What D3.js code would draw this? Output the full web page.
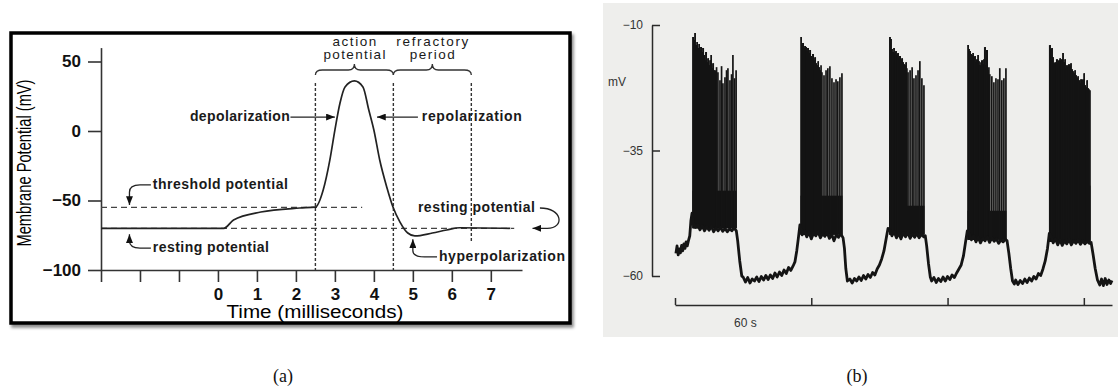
<!DOCTYPE html>
<html>
<head>
<meta charset="utf-8">
<script src="https://cdn.jsdelivr.net/npm/d3@7"></script>
<style>
  body { margin: 0; background: #fff; }
  svg { display: block; }
  text { font-family: "Liberation Sans", Arial, sans-serif; }
</style>
</head>
<body>
<svg id="chart" width="1118" height="389"></svg>
<script>
// ---------- panel (a): textbook action potential ----------
const apTime = [-3, 0.15, 0.4, 1.1, 2.1, 2.5, 2.7, 2.87, 3.0, 3.13, 3.26, 3.5, 3.72, 3.87, 4.0, 4.15, 4.33, 4.49, 4.67, 4.87, 5.05, 5.5, 5.87, 6.2, 7.5];
const apMv = [-70, -70, -64, -58.3, -55.4, -54.7, -42.4, -20.9, 0.7, 20, 31.7, 36, 31.7, 15.1, 0.7, -20.9, -40.3, -54.7, -65.5, -73.4, -75.5, -73.4, -71.2, -69.6, -70];
const aTickMv = [50, 0, -50, -100];
const aTickTime = [-3, -2, -1, 0, 1, 2, 3, 4, 5, 6, 7];
const thresholdMv = -55;
const restingMv = -70;
const phaseEdges = [2.5, 4.5, 6.5];
const phaseNames = [["action", "potential"], ["refractory", "period"]];

// ---------- panel (b): bursting recording ----------
const bTickMv = [-10, -35, -60];
const bTickTime = [0, 60, 120, 180];
// slow trace (baseline + plateau), [seconds, mV]
const tracePoints = [
  [0.4,-55.5],[0.9,-54.0],[1.4,-55.8],[1.9,-54.6],[2.4,-55.4],[2.9,-53.9],[3.4,-55.0],[3.9,-53.6],[4.4,-54.5],[4.9,-53.2],[5.4,-54.0],[5.9,-53.0],[6.5,-52.0],[7.0,-49.0],[7.5,-47.5],
  [8,-49.5],[9,-50.3],[10,-49.8],[11,-50.8],[12,-50.0],[13,-51.0],[14,-50.2],[15,-50.9],[16,-50.1],[17,-51.2],[18,-50.4],[19,-51.0],[20,-50.3],[21,-51.1],[22,-50.5],[23,-51.2],[24,-50.6],[25,-51.0],[26,-50.4],[27,-51.0],
  [27.6,-53.0],[28.5,-57.0],[29.4,-60.0],
  [30,-60.2],[31,-61.2],[32,-60.3],[33,-61.4],[34,-60.6],[35,-61.0],[36,-60.2],[37,-61.1],[38,-60.1],[39,-60.8],[40,-59.9],[41,-60.7],[42,-59.8],[43,-60.5],[44,-59.4],[45,-60.2],[46,-59.2],[47,-59.9],[48,-58.8],[49,-59.5],[50,-58.3],[51,-58.9],[52,-58.0],[52.8,-57.2],[53.6,-55.0],[54.3,-52.5],[55,-49.8],
  [56,-51.8],[57,-51.0],[58,-52.2],[59,-51.3],[60,-52.6],[61,-51.5],[62,-52.0],[63,-51.2],[64,-52.4],[65,-51.6],[66,-52.1],[67,-51.4],[68,-52.5],[69,-51.7],[70,-53.0],[71,-51.8],[72,-52.3],[73,-51.6],[74,-52.4],
  [74.6,-54.5],[75.2,-58.5],[75.9,-61.0],
  [77,-60.6],[78,-61.4],[79,-60.5],[80,-61.0],[81,-60.2],[82,-60.9],[83,-59.9],[84,-60.6],[85,-59.7],[86,-60.3],[87,-59.3],[88,-59.8],[89,-58.6],[90,-57.8],[91,-56.6],[92,-55.0],[93,-52.5],[93.8,-50.5],
  [94.5,-50.8],[95.5,-52.0],[96.5,-51.2],[97.5,-52.4],[98.5,-51.5],[99.5,-52.6],[100.5,-51.4],[101.5,-52.2],[102.5,-51.3],[103.5,-52.5],[104.5,-51.6],[105.5,-52.3],[106.5,-51.5],[107.5,-52.4],[108.5,-51.7],[109.5,-52.2],[110.2,-52.0],
  [110.8,-54.0],[111.6,-57.5],[112.4,-60.2],
  [113,-61.0],[114,-60.3],[115,-61.3],[116,-60.5],[117,-61.1],[118,-60.2],[119,-61.0],[120,-60.1],[121,-60.7],[122,-59.8],[123,-60.3],[124,-59.4],[125,-58.6],[126,-57.8],[127,-56.0],[128,-53.0],[128.7,-51.0],
  [129.5,-51.5],[130.5,-52.8],[131.5,-52.0],[132.5,-53.2],[133.5,-52.3],[134.5,-53.4],[135.5,-52.5],[136.5,-53.0],[137.5,-52.2],[138.5,-53.3],[139.5,-52.4],[140.5,-53.1],[141.5,-52.6],[142.5,-53.5],[143.5,-52.8],[144.5,-53.2],[145.5,-52.7],[146.2,-53.0],
  [147,-55.5],[147.8,-58.5],[148.6,-61.0],
  [149.4,-61.6],[150,-60.8],[151,-61.7],[152,-60.9],[153,-61.5],[154,-60.6],[155,-61.3],[156,-60.4],[157,-61.0],[158,-60.1],[159,-60.6],[160,-59.5],[161,-59.9],[162,-58.6],[163,-57.0],[164,-54.5],[164.8,-51.5],
  [165.5,-52.0],[166.5,-53.4],[167.5,-52.6],[168.5,-53.8],[169.5,-52.8],[170.5,-53.9],[171.5,-53.0],[172.5,-53.6],[173.5,-52.7],[174.5,-53.8],[175.5,-53.0],[176.5,-53.5],[177.5,-52.8],[178.5,-53.7],[179.5,-53.0],[180.5,-53.6],[181.5,-53.1],[182.5,-53.5],[183.2,-53.3],
  [184,-55.5],[185,-58.5],[186,-60.8],
  [187,-61.8],[187.8,-60.6],[188.6,-61.9],[189.4,-60.5],[190.2,-61.7],[191,-60.8],[191.8,-61.5],[192.4,-60.9]
];
// spike peaks per burst, [seconds, mV]
const burst1Spikes = [[7.9,-12.4],[8.4,-13.0],[8.8,-11.6],[9.2,-14.0],[9.7,-13.4],[10.1,-14.6],[10.6,-13.8],[11.0,-15.0],[11.4,-14.4],[11.9,-15.4],[12.3,-14.6],[12.8,-16.0],[13.2,-17.0],[13.6,-15.4],[14.1,-17.4],[14.5,-16.6],[15.0,-18.0],[15.4,-17.0],[15.9,-16.0],[16.3,-18.6],[16.7,-17.6],[17.2,-19.0],[17.6,-20.0],[18.3,-18.4],[18.9,-19.4],[19.8,-21.0],[20.5,-18.2],[21.1,-21.6],[22.0,-20.4],[22.7,-19.0],[23.3,-18.6],[24.2,-21.0],[24.9,-19.8],[25.5,-16.0],[26.2,-20.6],[26.9,-19.0]];
const burst2Spikes = [[55.5,-12.4],[55.9,-14.0],[56.3,-13.6],[56.8,-14.6],[57.2,-14.2],[57.7,-14.4],[58.1,-15.2],[58.5,-14.6],[59.0,-15.6],[59.4,-15.0],[59.9,-16.2],[60.3,-16.6],[60.7,-15.8],[61.2,-17.0],[61.6,-16.4],[62.1,-17.6],[62.5,-18.0],[63.0,-17.2],[63.4,-18.4],[63.8,-19.0],[64.3,-18.0],[64.7,-19.4],[65.6,-20.0],[66.5,-19.0],[67.3,-18.6],[68.2,-18.2],[69.1,-20.6],[70.0,-21.4],[70.9,-20.8],[71.7,-21.2],[72.6,-20.4],[73.5,-19.6]];
const burst3Spikes = [[94.6,-12.4],[95.0,-12.8],[95.5,-14.8],[95.9,-15.4],[96.4,-14.6],[96.8,-15.6],[97.2,-15.2],[97.7,-16.0],[98.1,-15.6],[98.6,-16.6],[99.0,-16.2],[99.5,-17.0],[99.9,-16.6],[100.4,-17.4],[100.8,-17.8],[101.3,-18.0],[101.7,-17.4],[102.1,-18.6],[102.6,-19.4],[103.5,-19.0],[104.4,-18.4],[105.2,-20.6],[106.1,-20.0],[107.0,-19.0],[107.8,-17.2],[108.7,-20.6],[109.6,-22.0]];
const burst4Spikes = [[129.0,-14.0],[129.4,-14.8],[129.8,-15.2],[130.3,-15.8],[130.7,-16.0],[131.2,-15.6],[131.6,-16.6],[132.0,-16.2],[132.5,-17.4],[132.9,-16.8],[133.4,-16.0],[133.8,-17.2],[134.2,-18.0],[134.7,-17.4],[135.1,-17.0],[135.6,-17.8],[136.0,-16.8],[136.4,-14.4],[136.9,-18.0],[137.3,-15.0],[137.8,-19.0],[138.2,-18.4],[138.6,-19.8],[139.5,-20.2],[140.4,-21.4],[141.3,-20.6],[142.2,-20.8],[143.0,-18.6],[143.9,-21.0],[144.8,-20.6],[145.7,-18.6]];
const burst5Spikes = [[165.0,-14.0],[165.5,-14.8],[165.9,-14.6],[166.4,-16.4],[166.8,-17.6],[167.3,-17.4],[167.7,-17.6],[168.1,-16.8],[168.6,-17.6],[169.0,-17.0],[169.5,-16.6],[169.9,-17.2],[170.3,-16.8],[170.8,-15.6],[171.2,-17.4],[171.7,-16.8],[172.1,-18.6],[172.5,-18.0],[173.0,-18.4],[173.4,-17.8],[173.9,-18.2],[174.3,-17.6],[174.7,-18.8],[175.2,-19.2],[175.6,-19.6],[176.1,-19.0],[176.5,-20.0],[177.0,-20.6],[177.4,-20.2],[177.8,-21.0],[178.3,-21.6],[178.7,-20.8],[179.2,-21.2],[180.1,-19.6],[180.5,-22.0],[181.0,-22.4],[181.4,-21.0],[181.8,-22.6],[182.3,-22.8],[182.7,-23.0]];
const burstFloor = [-50.5, -51.8, -51.8, -52.8, -53.2];   // spike troughs (plateau)
const burstBandTop = [-43, -44, -46, -47, -42];           // solid part of each burst

const svg = d3.select("#chart");
const defs = svg.append("defs");

const shadow = defs.append("filter").attr("id", "shadow").attr("x", "-5%").attr("y", "-5%").attr("width", "115%").attr("height", "115%");
shadow.append("feDropShadow").attr("dx", 2).attr("dy", 3).attr("stdDeviation", 1.8)
  .attr("flood-color", "#000").attr("flood-opacity", 0.45);

defs.append("marker")
  .attr("id", "arrow")
  .attr("viewBox", "0 0 10 8")
  .attr("refX", 10).attr("refY", 4)
  .attr("markerWidth", 9).attr("markerHeight", 7)
  .attr("markerUnits", "userSpaceOnUse")
  .attr("orient", "auto")
  .append("path").attr("d", "M0,0L10,4L0,8Z").attr("fill", "#111");

// ================= panel (a) =================
const ga = svg.append("g");
ga.append("rect")
  .attr("x", 11).attr("y", 33).attr("width", 559).attr("height", 290)
  .attr("fill", "#fff").attr("stroke", "#000").attr("stroke-width", 3.5)
  .attr("filter", "url(#shadow)");

const xa = d3.scaleLinear().domain([-3, 7.8]).range([101, 522]);
const ya = d3.scaleLinear().domain([-100, 60]).range([270, 47.6]);

const yAxisA = ga.append("g")
  .attr("transform", `translate(${xa(-3)},0)`)
  .call(d3.axisLeft(ya).tickValues(aTickMv).tickSize(13).tickSizeOuter(0).tickPadding(7));
const xAxisA = ga.append("g")
  .attr("transform", `translate(0,${ya(-100)})`)
  .call(d3.axisBottom(xa).tickValues(aTickTime).tickSize(12).tickSizeOuter(0).tickPadding(6)
    .tickFormat(d => (d >= 0 ? d : "")));
[yAxisA, xAxisA].forEach(g => {
  g.selectAll("path, line").attr("stroke", "#333").attr("stroke-width", 1.6);
  g.selectAll("text")
    .attr("fill", "#111")
    .style("font-size", "17px")
    .style("font-weight", "bold")
    .style("font-family", "'Liberation Sans', Arial, sans-serif");
});

// threshold + resting reference lines
ga.append("line")
  .attr("x1", xa(-3)).attr("x2", xa(3.7))
  .attr("y1", ya(thresholdMv)).attr("y2", ya(thresholdMv))
  .attr("stroke", "#444").attr("stroke-width", 1.2).attr("stroke-dasharray", "6,4");
ga.append("line")
  .attr("x1", xa(-3)).attr("x2", xa(7.6))
  .attr("y1", ya(restingMv)).attr("y2", ya(restingMv))
  .attr("stroke", "#444").attr("stroke-width", 1.2).attr("stroke-dasharray", "6,4");

// phase boundaries
ga.selectAll(".phase")
  .data(phaseEdges)
  .enter()
  .append("line")
  .attr("class", "phase")
  .attr("x1", d => xa(d)).attr("x2", d => xa(d))
  .attr("y1", ya(34.5))
  .attr("y2", (d, i) => (i === phaseEdges.length - 1 ? ya(-80.6) : ya(-100)))
  .attr("stroke", "#333").attr("stroke-width", 1.4).attr("stroke-dasharray", "3,2");

// the action potential
const apLine = d3.line()
  .x(i => xa(apTime[i]))
  .y(i => ya(apMv[i]))
  .curve(d3.curveMonotoneX);
ga.append("path")
  .attr("d", apLine(d3.range(apTime.length)))
  .attr("fill", "none").attr("stroke", "#222").attr("stroke-width", 1.7);

// braces + their two-line labels
const phaseWidths = [[44, 62], [72, 45]];
phaseNames.forEach((names, i) => {
  const x0 = xa(phaseEdges[i]), x1 = xa(phaseEdges[i + 1]), xm = (x0 + x1) / 2;
  const yb = ya(40.3), yt = ya(43.9), ytip = ya(48.2);
  ga.append("path")
    .attr("d", `M${x0},${yb}Q${x0},${yt} ${x0 + 7},${yt}L${xm - 6},${yt}Q${xm},${yt} ${xm},${ytip}` +
      `Q${xm},${yt} ${xm + 6},${yt}L${x1 - 7},${yt}Q${x1},${yt} ${x1},${yb}`)
    .attr("fill", "none").attr("stroke", "#333").attr("stroke-width", 1.3);
  const label = ga.append("text")
    .attr("text-anchor", "middle")
    .style("font-size", "13.5px")
    .attr("fill", "#1a1a1a");
  names.forEach((n, j) => {
    label.append("tspan")
      .attr("x", xm).attr("y", yt - 24 + j * 13)
      .attr("textLength", phaseWidths[i][j]).attr("lengthAdjust", "spacing")
      .text(n);
  });
});

// annotations: [text, t, mV baseline, width]
const notes = [
  ["depolarization", -0.72, 7, 100],
  ["repolarization", 5.23, 7, 100],
  ["threshold potential", -1.67, -41.7, 135],
  ["resting potential", -1.67, -87, 116],
  ["resting potential", 5.13, -58.3, 117],
  ["hyperpolarization", 5.67, -93.5, 126]
];
notes.forEach(n => {
  ga.append("text")
    .attr("x", xa(n[1])).attr("y", ya(n[2]))
    .attr("textLength", n[3]).attr("lengthAdjust", "spacing")
    .style("font-size", "14px").style("font-weight", "bold")
    .attr("fill", "#1a1a1a")
    .text(n[0]);
});

const arrows = [
  `M${xa(1.86)},${ya(10)}H${xa(3.0)}`,
  `M${xa(5.13)},${ya(10)}H${xa(4.08)}`,
  `M${xa(-1.72)},${ya(-38.8)}H${xa(-2.0)}Q${xa(-2.27)},${ya(-38.8)} ${xa(-2.27)},${ya(-44)}V${ya(-53.2)}`,
  `M${xa(-1.72)},${ya(-84.2)}H${xa(-2.0)}Q${xa(-2.27)},${ya(-84.2)} ${xa(-2.27)},${ya(-79)}V${ya(-74.3)}`,
  `M${xa(5.62)},${ya(-90.6)}H${xa(5.3)}Q${xa(5.0)},${ya(-90.6)} ${xa(5.0)},${ya(-86)}V${ya(-77.8)}`,
  `M${xa(8.26)},${ya(-55.4)}C${xa(8.85)},${ya(-55.4)} ${xa(8.9)},${ya(-70)} ${xa(8.45)},${ya(-70)}L${xa(8.07)},${ya(-70)}`
];
ga.selectAll(".note-arrow")
  .data(arrows)
  .enter()
  .append("path")
  .attr("class", "note-arrow")
  .attr("d", d => d)
  .attr("fill", "none").attr("stroke", "#222").attr("stroke-width", 1.3)
  .attr("marker-end", "url(#arrow)");

ga.append("text")
  .attr("transform", "translate(31,163) rotate(-90)")
  .attr("text-anchor", "middle")
  .attr("textLength", 167).attr("lengthAdjust", "spacingAndGlyphs")
  .style("font-family", "'Liberation Sans Narrow', 'Liberation Sans', Arial, sans-serif")
  .style("font-size", "21px")
  .attr("fill", "#000")
  .text("Membrane Potential (mV)");

ga.append("text")
  .attr("x", 315).attr("y", 318)
  .attr("text-anchor", "middle")
  .attr("textLength", 177).attr("lengthAdjust", "spacingAndGlyphs")
  .style("font-family", "'Liberation Sans Narrow', 'Liberation Sans', Arial, sans-serif")
  .style("font-size", "18px")
  .attr("fill", "#000")
  .text("Time (milliseconds)");

// ================= panel (b) =================
const gb = svg.append("g");
gb.append("rect")
  .attr("x", 603).attr("y", 3).attr("width", 515).attr("height", 334)
  .attr("fill", "#eeeeec");

const xb = d3.scaleLinear().domain([0, 192.4]).range([675, 1112]);
const yb = d3.scaleLinear().domain([-60, -10]).range([276, 25]);

const yAxisB = gb.append("g")
  .attr("transform", "translate(652,0)")
  .call(d3.axisLeft(yb).tickValues(bTickMv).tickSize(-8).tickSizeOuter(0).tickPadding(9)
    .tickFormat(d => "\u2212" + Math.abs(d)));
const xAxisB = gb.append("g")
  .attr("transform", "translate(0,305)")
  .call(d3.axisTop(xb).tickValues(bTickTime).tickSize(7).tickSizeOuter(0).tickFormat(""));
[yAxisB, xAxisB].forEach(g => {
  g.selectAll("path, line").attr("stroke", "#2a2a2a").attr("stroke-width", 1.5);
  g.selectAll("text").attr("fill", "#333").style("font-size", "12px")
    .style("font-family", "'Liberation Sans', Arial, sans-serif");
});

gb.append("text").attr("x", 608).attr("y", 86)
  .style("font-size", "12px").attr("fill", "#333").text("mV");
gb.append("text").attr("x", xb(31)).attr("y", 327)
  .attr("text-anchor", "middle")
  .style("font-size", "12px").attr("fill", "#333").text("60 s");

const burstSpikes = [burst1Spikes, burst2Spikes, burst3Spikes, burst4Spikes, burst5Spikes];
burstSpikes.forEach((spikes, i) => {
  const t0 = spikes[0][0], t1 = spikes[spikes.length - 1][0];
  gb.append("rect")
    .attr("x", xb(t0) - 0.5).attr("width", xb(t1) - xb(t0) + 1)
    .attr("y", yb(burstBandTop[i])).attr("height", yb(burstFloor[i]) - yb(burstBandTop[i]))
    .attr("fill", "#141414");

  // closely packed spikes merge into a solid mass: fill under their peaks
  const dense = spikes.filter((d, j) => j < spikes.length - 1 && spikes[j + 1][0] - d[0] < 0.6);
  const area = d3.area()
    .x(d => xb(d[0]))
    .y0(yb(burstFloor[i]))
    .y1(d => yb(d[1]))
    .curve(d3.curveStepAfter);
  gb.append("path")
    .attr("d", area(dense))
    .attr("fill", "#141414");

  gb.selectAll(".spike-" + i)
    .data(spikes)
    .enter()
    .append("line")
    .attr("class", "spike-" + i)
    .attr("x1", d => xb(d[0])).attr("x2", d => xb(d[0]))
    .attr("y1", yb(burstFloor[i])).attr("y2", d => yb(d[1]))
    .attr("stroke", "#141414").attr("stroke-width", 1.7);
});

const traceLine = d3.line()
  .x(d => xb(d[0]))
  .y(d => yb(d[1]));
gb.append("path")
  .attr("d", traceLine(tracePoints))
  .attr("fill", "none").attr("stroke", "#141414").attr("stroke-width", 2.8)
  .attr("stroke-linejoin", "round");

// panel captions
svg.append("text").attr("x", 283).attr("y", 382).attr("text-anchor", "middle")
  .style("font-family", "'Liberation Serif', 'Times New Roman', serif").style("font-size", "18px")
  .attr("fill", "#111").text("(a)");
svg.append("text").attr("x", 857).attr("y", 382).attr("text-anchor", "middle")
  .style("font-family", "'Liberation Serif', 'Times New Roman', serif").style("font-size", "18px")
  .attr("fill", "#111").text("(b)");
</script>
</body>
</html>
